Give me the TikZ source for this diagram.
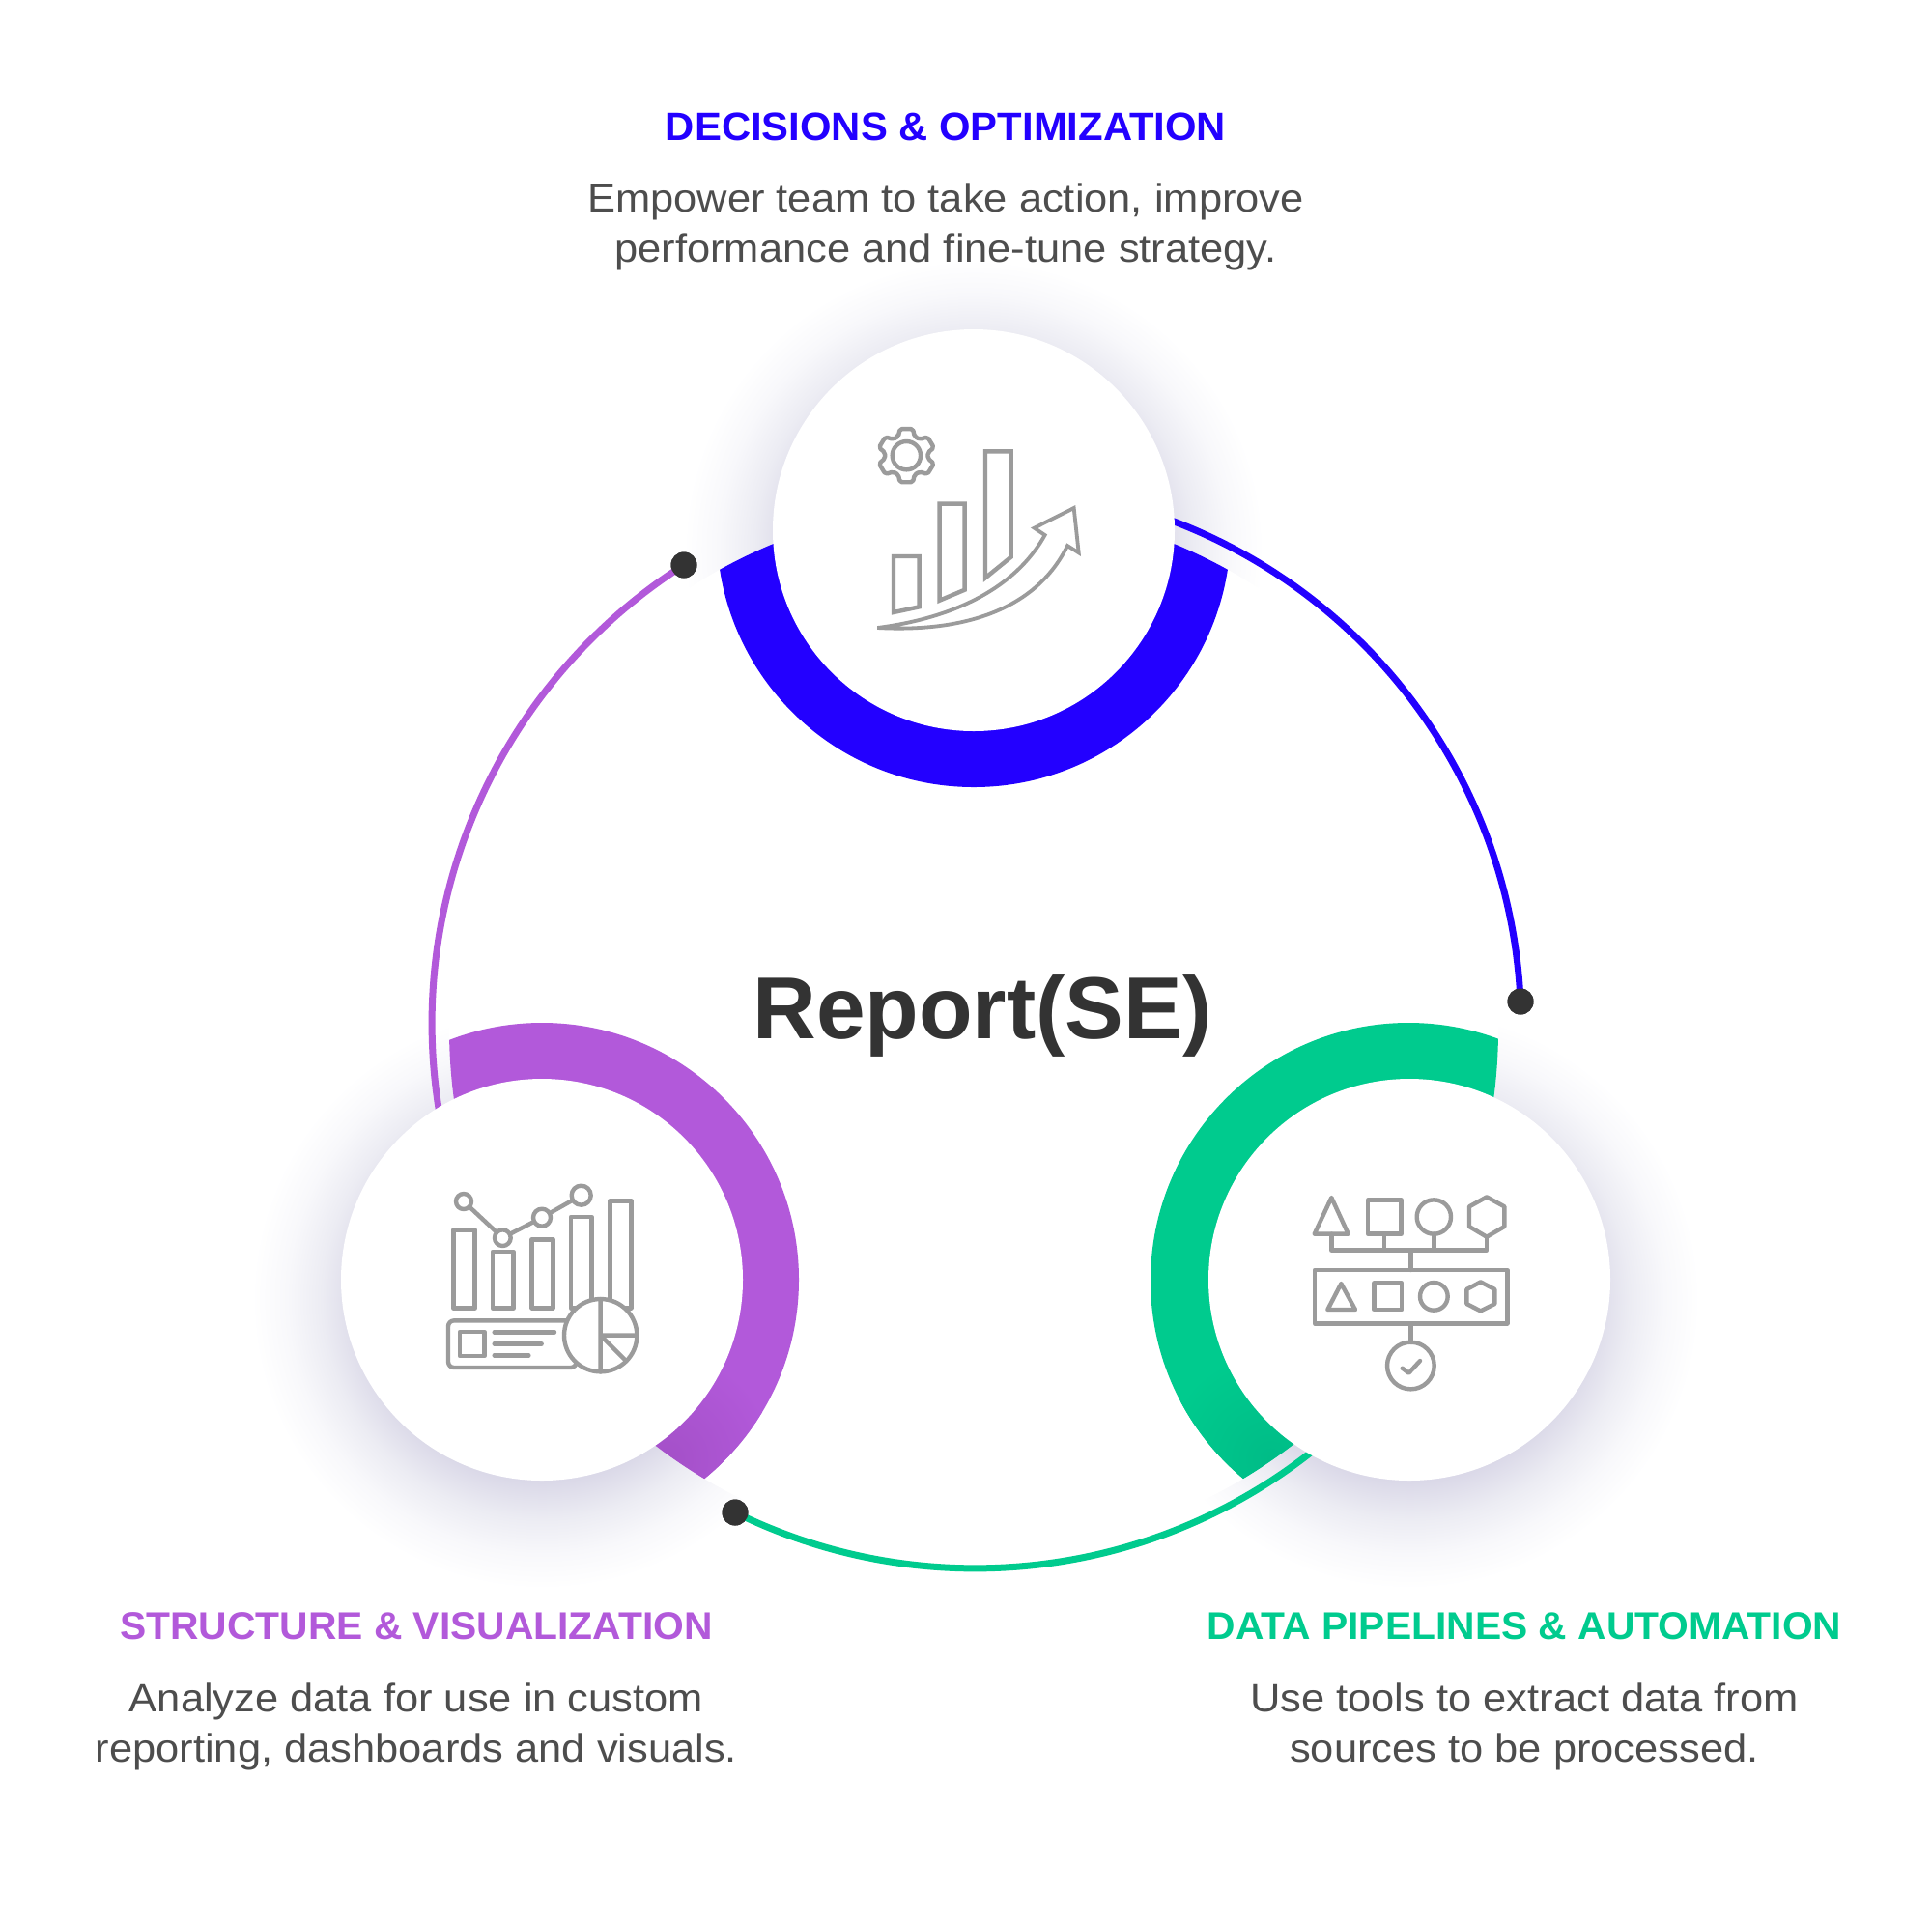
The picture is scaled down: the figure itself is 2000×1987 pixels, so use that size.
\documentclass[tikz,border=0pt]{standalone}
\usepackage{fontspec}
\setmainfont{Liberation Sans}
\newfontfamily\bodyfont[FakeStretch=1.06]{Liberation Sans}
\newfontfamily\headfont[FakeStretch=1.02]{Liberation Sans}
\definecolor{cblue}{HTML}{2300FF}
\definecolor{cpurple}{HTML}{B259DA}
\definecolor{cpurpled}{HTML}{A450C8}
\definecolor{cgreen}{HTML}{00CB8E}
\definecolor{cgreend}{HTML}{00BC87}
\definecolor{cdot}{HTML}{333333}
\definecolor{cicon}{HTML}{9B9B9B}
\definecolor{ctext}{HTML}{4D4D4D}
\definecolor{sa}{HTML}{D6D4E5}
\definecolor{sb}{HTML}{D9D7E7}
\definecolor{sc}{HTML}{ECECF3}
\definecolor{sd}{HTML}{F8F8FB}
\definecolor{se}{HTML}{FFFFFF}
\pgfdeclareradialshading[sa,sb,sc,sd,se]{softshadow}{\pgfpoint{0bp}{0bp}}{%
  color(0bp)=(sa);
  color(15.5bp)=(sb);
  color(19bp)=(sc);
  color(22bp)=(sd);
  color(25bp)=(se);
  color(50bp)=(se)}
\tikzset{
  head/.style={font=\headfont\fontsize{20.5}{26}\selectfont\bfseries,anchor=center,inner sep=0pt},
  headsm/.style={font=\headfont\fontsize{20}{26}\selectfont\bfseries,anchor=center,inner sep=0pt},
  body/.style={font=\bodyfont\fontsize{20.5}{26}\selectfont,text=ctext,align=center,anchor=center,inner sep=0pt},
  disc/.style={fill=white,draw=none},
  dotnode/.style={circle,fill=cdot,draw=none,minimum size=13.5pt,inner sep=0pt},
  arcline/.style={line width=3.5pt,line cap=butt},
  ico/.style={draw=cicon,line width=2.2pt,line join=round,line cap=round},
  icoz/.style={shift={#1},x=0.16667pt,y=-0.16667pt},
}
\begin{document}
\begin{tikzpicture}[x=0.5pt,y=-0.5pt]
\useasboundingbox (0,0) rectangle (2000,1987);
\fill[white] (0,0) rectangle (2000,1987);
% shadows
\shade[shading=softshadow] (1008,569) circle[radius=300];
\shade[shading=softshadow] (561,1345) circle[radius=300];
\shade[shading=softshadow] (1459,1345) circle[radius=300];
% the middle of the wheel stays clean white
\fill[white] (1008,1065) circle[radius=543];
% rings
\begin{scope}
\clip (1008,1065) circle[radius=543];
\fill[cblue] (1008,549) circle[radius=266];
\fill[cpurple] (561,1325) circle[radius=266];
\fill[cgreen] (1458,1326) circle[radius=267];
\begin{scope}
\clip (561,1325) circle[radius=266];
\shade[inner color=cpurpled,outer color=cpurple] (690,1510) circle[radius=110];
\end{scope}
\begin{scope}
\clip (1458,1326) circle[radius=267];
\shade[inner color=cgreend,outer color=cgreen] (1315,1510) circle[radius=110];
\end{scope}
\end{scope}
% end dots
\node[dotnode] (dotblue) at (1574,1037) {};
\node[dotnode] (dotpurple) at (708,585) {};
\node[dotnode] (dotgreen) at (761,1566) {};
% connectors
\draw[arcline,cblue] (dotblue.center) arc[start angle=-2.57,end angle=-72,radius=559];
\draw[arcline,cpurple] (dotpurple.center) arc[start angle=237.6,end angle=168,radius=562];
\draw[arcline,cgreen] (dotgreen.center) arc[start angle=116.2,end angle=48,radius=563];
\node[dotnode] at (dotblue.center) {};
\node[dotnode] at (dotpurple.center) {};
\node[dotnode] at (dotgreen.center) {};
% discs
\fill[disc] (1008,549) circle[radius=208];
\fill[disc] (561,1325) circle[radius=208];
\fill[disc] (1459,1325) circle[radius=208];
% icon 1
\begin{scope}[icoz={(860,410)}]
\draw[ico,line cap=butt,line join=miter] (195,498) -- (275,498) -- (275,655) -- (195,672) -- cycle;
\draw[ico,line cap=butt,line join=miter] (338,335) -- (416,335) -- (416,602) -- (338,635) -- cycle;
\draw[ico,line cap=butt,line join=miter] (480,172) -- (560,172) -- (560,500) -- (480,565) -- cycle;
\draw[ico,line width=1.9pt,line join=miter] (145,720) .. controls (340,695) and (560,620) .. (665,432) -- (632,410) -- (755,348) -- (770,487) -- (735,465) .. controls (640,660) and (420,735) .. (145,720) -- cycle;
\draw[ico] (235,185) circle[radius=44];
\begin{scope}[shift={(235,185)},xscale=1.05]
\draw[ico,rounded corners=1pt] (-112:64) foreach \a in {-90,-30,30,90,150,210}{ -- (\a-22:64) -- (\a-13:85) -- (\a+13:85) -- (\a+22:64) } -- cycle;
\end{scope}
\end{scope}
% icon 2
\begin{scope}[icoz={(440,1200)}]
\draw[ico] (88,220) rectangle (155,463);
\draw[ico] (210,288) rectangle (275,463);
\draw[ico] (332,250) rectangle (397,463);
\draw[ico] (453,180) rectangle (518,463);
\draw[ico] (575,130) rectangle (640,463);
\draw[ico] (120,132) -- (241,245) -- (363,182) -- (485,113);
\draw[ico,fill=white] (120,132) circle[radius=24];
\draw[ico,fill=white] (241,245) circle[radius=25];
\draw[ico,fill=white] (363,182) circle[radius=27];
\draw[ico,fill=white] (485,113) circle[radius=30];
\draw[ico,rounded corners=3pt] (72,502) rectangle (470,648);
\draw[ico] (108,537) rectangle (185,612);
\draw[ico] (215,538) -- (402,538) (215,574) -- (362,574) (215,610) -- (322,610);
\draw[ico,fill=white] (545,548) circle[radius=113];
\draw[ico] (545,435) -- (545,661) (545,548) -- (658,548) (545,548) -- (625,628);
\end{scope}
% icon 3
\begin{scope}[icoz={(1340,1210)}]
\draw[ico] (115,90) -- (167,203) -- (62,203) -- cycle;
\draw[ico] (228,98) rectangle (332,203);
\draw[ico] (433,150) circle[radius=53];
\draw[ico] (597,88) -- (652,118) -- (652,180) -- (597,212) -- (543,180) -- (543,118) -- cycle;
\draw[ico] (115,203) -- (115,254) -- (597,254) -- (597,212) (279,203) -- (279,254) (433,203) -- (433,254) (361,254) -- (361,315);
\draw[ico] (63,315) rectangle (661,481);
\draw[ico] (145,357) -- (189,438) -- (103,438) -- cycle;
\draw[ico] (248,355) rectangle (333,438);
\draw[ico] (433,397) circle[radius=43];
\draw[ico] (578,352) -- (622,375) -- (622,420) -- (578,442) -- (535,420) -- (535,375) -- cycle;
\draw[ico] (361,481) -- (361,540);
\draw[ico] (361,612) circle[radius=73];
\draw[ico] (335,620) -- (355,635) -- (390,597);
\end{scope}
% texts
\node[head,text=cblue] (h1) at (979,131) {DECISIONS \& OPTIMIZATION};
\node[body] (b1) at (979,235) {Empower team to take action, improve\\performance and fine-tune strategy.};
\node[headsm,text=cpurple] (h2) at (431,1684) {STRUCTURE \& VISUALIZATION};
\node[body] (b2) at (431,1788) {Analyze data for use in custom\\reporting, dashboards and visuals.};
\node[headsm,text=cgreen] (h3) at (1578,1684) {DATA PIPELINES \& AUTOMATION};
\node[body] (b3) at (1578,1788) {Use tools to extract data from\\sources to be processed.};
\node[font=\fontsize{45.5}{46}\selectfont\bfseries,text=cdot,inner sep=0pt] (title) at (1017,1052) {Report(SE)};
\end{tikzpicture}
\end{document}
